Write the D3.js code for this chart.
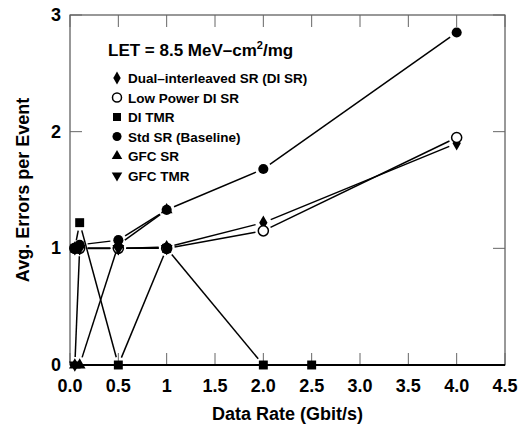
<!DOCTYPE html>
<meta charset="utf-8">
<script src="https://cdn.jsdelivr.net/npm/d3@7"></script>
<style>
body { margin: 0; background: #fff; }
text {
  font-family: "Liberation Sans", Arial, sans-serif;
  font-weight: bold;
  fill: #000;
}
.series { fill: none; stroke: #000; stroke-width: 1.5px; }
.frame { fill: none; stroke: #333; stroke-width: 1px; }
.tick { stroke: #666; stroke-width: 1px; }
</style>
<body>
<script>

// x ticks (Gbit/s) and their printed labels
var xTicks = [0, 0.5, 1, 1.5, 2, 2.5, 3, 3.5, 4, 4.5];
var xTickLabels = ["0.0", "0.5", "1", "1.5", "2.0", "2.5", "3.0", "3.5", "4.0", "4.5"];
var yTicks = [0, 1, 2, 3];

// avg errors per event, [data rate, value]
var diSR     = [[0.05, 1.0], [0.1, 1.0], [0.5, 1.0], [1, 1.01], [2, 1.22], [4, 1.90]];
var lpDiSR   = [[0.05, 1.0], [0.1, 1.0], [0.5, 1.0], [1, 1.0], [2, 1.15], [4, 1.95]];
var diTMR    = [[0.05, 1.0], [0.1, 1.22], [0.5, 0], [1, 1.0], [2, 0], [2.5, 0]];
var stdSR    = [[0.05, 1.0], [0.1, 1.03], [0.5, 1.07], [1, 1.33], [2, 1.68], [4, 2.85]];
var gfcSR    = [[0.05, 0], [0.1, 0], [0.5, 1.03], [1, 1.33]];
var gfcTMR   = [[0.05, 0], [0.1, 1.0], [0.5, 1.0], [1, 1.0]];

var seriesNames = ["Dual\u2013interleaved SR (DI SR)", "Low Power DI SR", "DI TMR",
                   "Std SR (Baseline)", "GFC SR", "GFC TMR"];
var seriesData = [diSR, lpDiSR, diTMR, stdSR, gfcSR, gfcTMR];
var seriesSymbols = ["diamond", "open", "square", "circle", "up", "down"];

var width = 522, height = 432;
var pL = 70, pR = 505, pT = 15, pB = 365;

var x = d3.scaleLinear().domain([0, 4.5]).range([pL, pR]);
var y = d3.scaleLinear().domain([0, 3]).range([pB, pT]);

var svg = d3.select("body").append("svg")
    .attr("width", width)
    .attr("height", height);

// frame + inward ticks on all four sides
svg.append("rect").attr("class", "frame")
    .attr("x", pL).attr("y", pT)
    .attr("width", pR - pL).attr("height", pB - pT);

var tl = 12;
xTicks.forEach(function(t) {
  svg.append("line").attr("class", "tick")
      .attr("x1", x(t)).attr("x2", x(t)).attr("y1", pB).attr("y2", pB - tl);
  svg.append("line").attr("class", "tick")
      .attr("x1", x(t)).attr("x2", x(t)).attr("y1", pT).attr("y2", pT + tl);
});
yTicks.forEach(function(t) {
  svg.append("line").attr("class", "tick")
      .attr("x1", pL).attr("x2", pL + tl).attr("y1", y(t)).attr("y2", y(t));
  svg.append("line").attr("class", "tick")
      .attr("x1", pR).attr("x2", pR - tl).attr("y1", y(t)).attr("y2", y(t));
});

// heavier bottom axis
svg.append("line")
    .attr("x1", pL).attr("x2", pR).attr("y1", pB).attr("y2", pB)
    .style("stroke", "#000").style("stroke-width", "2px");

svg.selectAll(".xlab")
    .data(xTicks)
    .enter().append("text")
    .attr("class", "xlab")
    .attr("x", function(d) { return x(d); })
    .attr("y", 392)
    .attr("text-anchor", "middle")
    .style("font-size", "18px")
    .text(function(d, i) { return xTickLabels[i]; });

svg.selectAll(".ylab")
    .data(yTicks)
    .enter().append("text")
    .attr("class", "ylab")
    .attr("x", 61)
    .attr("y", function(d) { return y(d) + 6; })
    .attr("text-anchor", "end")
    .style("font-size", "18px")
    .text(function(d) { return d; });

svg.append("text")
    .attr("x", (pL + pR) / 2)
    .attr("y", 420)
    .attr("text-anchor", "middle")
    .style("font-size", "18px")
    .text("Data Rate (Gbit/s)");

svg.append("text")
    .attr("transform", "translate(29," + ((pT + pB) / 2) + ") rotate(-90)")
    .attr("text-anchor", "middle")
    .style("font-size", "18px")
    .text("Avg. Errors per Event");

// marker shapes
function symbolPath(kind, s) {
  var gen = d3.symbol();
  if (kind == "diamond") return gen.type(d3.symbolDiamond).size(s * 0.75)();
  if (kind == "square") return gen.type(d3.symbolSquare).size(s)();
  if (kind == "up" || kind == "down") return gen.type(d3.symbolTriangle).size(s * 0.75)();
  return gen.type(d3.symbolCircle).size(s)();
}

function drawMarker(g, kind, cx, cy, s) {
  var p = g.append("path")
      .attr("d", symbolPath(kind, s))
      .attr("transform", "translate(" + cx + "," + cy + ")" + (kind == "down" ? " rotate(180)" : ""));
  if (kind == "open") {
    p.style("fill", "#fff").style("stroke", "#000").style("stroke-width", "1.5px");
  } else {
    p.style("fill", "#000");
  }
}

// line segments stop short of the markers
var gap = 8;
var plot = svg.append("g");
seriesData.forEach(function(pts) {
  for (var i = 1; i < pts.length; i++) {
    var x1 = x(pts[i - 1][0]), y1 = y(pts[i - 1][1]),
        x2 = x(pts[i][0]), y2 = y(pts[i][1]);
    var dx = x2 - x1, dy = y2 - y1,
        len = Math.sqrt(dx * dx + dy * dy);
    if (len <= 2 * gap) continue;
    var ux = dx / len, uy = dy / len;
    plot.append("line").attr("class", "series")
        .attr("x1", x1 + ux * gap).attr("y1", y1 + uy * gap)
        .attr("x2", x2 - ux * gap).attr("y2", y2 - uy * gap);
  }
});

seriesData.forEach(function(pts, k) {
  pts.forEach(function(p) {
    drawMarker(plot, seriesSymbols[k], x(p[0]), y(p[1]), 80);
  });
});

// legend
var leg = svg.append("g");
var title = leg.append("text")
    .attr("x", 108).attr("y", 56)
    .style("font-size", "17px");
title.append("tspan").text("LET = 8.5 MeV\u2013cm");
title.append("tspan").attr("dy", -7).style("font-size", "11px").text("2");
title.append("tspan").attr("dy", 7).text("/mg");

seriesNames.forEach(function(name, i) {
  var ry = 78 + i * 19.5;
  drawMarker(leg, seriesSymbols[i], 117, ry, 64);
  leg.append("text")
      .attr("x", 128).attr("y", ry + 5)
      .style("font-size", "13.5px")
      .text(name);
});

</script>
</body>
